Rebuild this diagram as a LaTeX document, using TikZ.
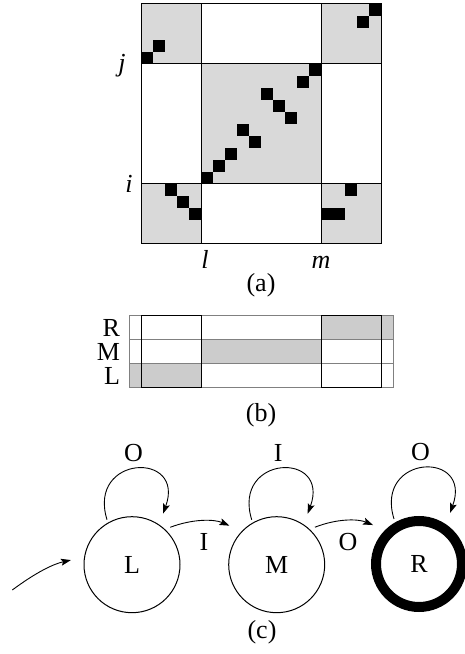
\documentclass[tikz,border=0pt]{standalone}
\usepackage{fontspec}
\setmainfont{Liberation Serif}
\usetikzlibrary{arrows.meta,calc}

\begin{document}
\begin{tikzpicture}[x=1pt,y=1pt,line width=1pt,
  every node/.style={font=\fontsize{26}{30}\selectfont, inner sep=0pt},
  cellgray/.style={fill=black!15},
  bargray/.style={fill=black!20},
  barline/.style={draw=black!50},
  state/.style={circle, draw, line width=1pt, minimum size=96pt, inner sep=0pt},
  finalstate/.style={circle, draw, line width=10pt, minimum size=86pt, inner sep=0pt},
  arr/.style={-{Stealth[length=10pt,width=7pt,inset=2pt]}, line width=0.9pt},
]
\useasboundingbox (0,0) rectangle (465,654);

% (a) block matrix, 20 x 20 cells of 12pt
\begin{scope}[shift={(141pt,650pt)}, x=12pt, y=-12pt]
  \fill[cellgray] (0,0) rectangle (5,5) (15,0) rectangle (20,5)
                  (5,5) rectangle (15,15)
                  (0,15) rectangle (5,20) (15,15) rectangle (20,20);
  \foreach \c/\r in {0/4,1/3,19/0,18/1,14/5,13/6,10/7,11/8,12/9,8/10,9/11,
                     7/12,6/13,5/14,2/15,3/16,4/17,17/15,15/17,16/17}
    \fill (\c,\r) rectangle ++(1,1);
  \draw (0,0) rectangle (20,20);
  \draw (5,0) -- (5,20) (15,0) -- (15,20) (0,5) -- (20,5) (0,15) -- (20,15);
\end{scope}
\node[anchor=base] (lj) at (122,582) {\textit{j}};
\node[anchor=base] (li) at (129,461) {\textit{i}};
\node[anchor=base] (ll) at (205,385) {\textit{l}};
\node[anchor=base] (lm) at (321,385) {\textit{m}};
\node (capa) at (261,369) {(a)};

% (b) interval bars
\fill[bargray] (321,314) rectangle (393,338);
\fill[bargray] (201,290) rectangle (321,314);
\fill[bargray] (129,266) rectangle (201,290);
\draw[barline] (129,266) rectangle (393,338);
\draw[barline] (129,314) -- (393,314) (129,290) -- (393,290);
\draw (141,266) rectangle (201,338);
\draw (321,266) rectangle (381,338);
\node[anchor=east] (rowR) at (120.5,326) {R};
\node[anchor=east] (rowM) at (120.5,302) {M};
\node[anchor=east] (rowL) at (120.5,278) {L};
\node (capb) at (261,239) {(b)};

% (c) automaton
\node[state] (L) at (132,89.3) {L};
\node[state] (M) at (276.7,89.3) {M};
\node[finalstate] (R) at (419,90) {R};

\coordinate (start) at (12.3,64);
\draw[arr, shorten >=13.5pt] (start) to[bend left=12] (L.171);

\draw[arr, shorten <=5.5pt, shorten >=13.5pt] (L.47) to[bend left=22] (M.136);
\draw[arr, shorten <=5.5pt, shorten >=13pt] (M.47) to[bend left=22] (R.135);
\node (tLM) at (204,112) {I};
\node (tMR) at (348,112) {O};

\foreach \s/\lab in {L/O, M/I, R/O} {
  \draw[arr] ([shift={(-25,45)}]\s.center) .. controls +(-20,65) and +(23,63)
        .. ([shift={(31,51)}]\s.center);
  \node (loop\s) at ([shift={(1.5,112)}]\s.center) {\lab};
}

\node (capc) at (262,22) {(c)};
\end{tikzpicture}
\end{document}
